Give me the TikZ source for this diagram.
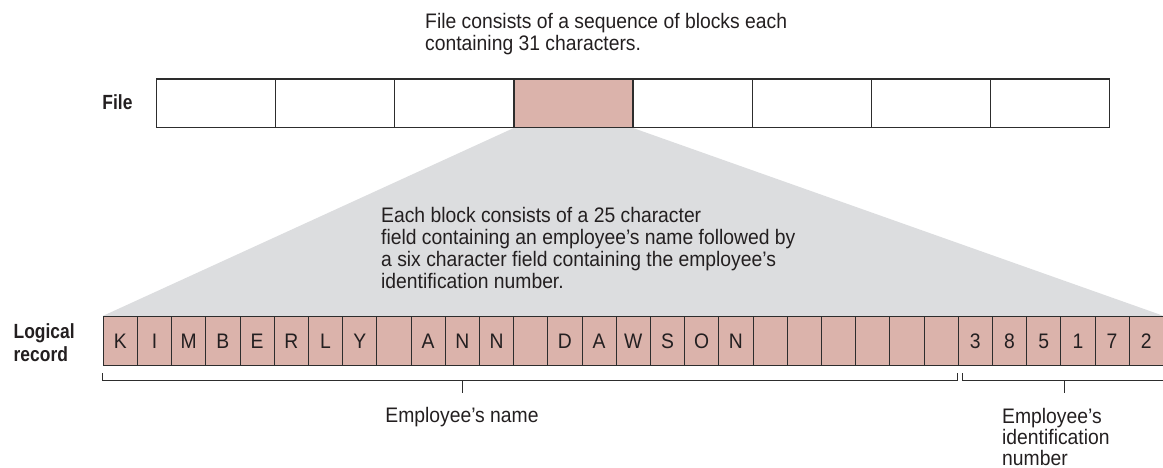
\documentclass[tikz,border=0pt]{standalone}
\usepackage{fontspec}
\setmainfont{Liberation Sans}[FakeStretch=0.92]
\newfontfamily\lblfont{Liberation Sans}[FakeStretch=0.85]
\usetikzlibrary{backgrounds}
\definecolor{pinkc}{RGB}{219,179,171}
\definecolor{grayc}{RGB}{220,221,223}
\definecolor{linec}{RGB}{45,45,45}
\definecolor{textc}{RGB}{35,31,32}
\begin{document}
\begin{tikzpicture}[x=1pt,y=-1pt,
  font=\fontsize{21}{22}\selectfont, text=textc,
  fblock/.style={draw=linec, line width=1.2pt, fill=white, minimum width=119.1pt,
    minimum height=48.5pt, inner sep=0pt, anchor=north west},
  rcell/.style={draw=linec, line width=1pt, fill=pinkc, minimum width=34.2pt,
    minimum height=49pt, inner sep=0pt, anchor=north west,
    text height=15pt, text depth=0pt},
  brk/.style={draw=linec, line width=1pt},
  lbl/.style={font=\lblfont\bfseries\fontsize{20.5}{23}\selectfont, inner sep=0pt},
  note/.style={align=left, inner sep=0pt, anchor=north west}]
\useasboundingbox (0,0) rectangle (1163,468);

% file blocks
\foreach \i in {1,2,3,5,6,7,8} {
  \node[fblock] (b\i) at ({156+(\i-1)*119.1},78.5) {};
}
\node[fblock, fill=pinkc] (b4) at ({156+3*119.1},78.5) {};

% logical record cells
\foreach \ch [count=\i] in {K,I,M,B,E,R,L,Y,{},A,N,N,{},D,A,W,S,O,N,{},{},{},{},{},{},3,8,5,1,7,2} {
  \node[rcell] (c\i) at ({102.7+(\i-1)*34.2},316) {\ch};
}

% gray zoom trapezoid
\begin{scope}[on background layer]
  \fill[grayc] (b4.south west) -- (b4.south east) -- (c31.north east) -- (c1.north west) -- cycle;
\end{scope}

% labels
\node[lbl, anchor=base east] (filelbl) at (132.7,109.3) {File};
\node[lbl, anchor=north west, align=left] (reclbl) at (13.5,323.5) {Logical\\record};

% notes
\node[note, font=\fontsize{21}{22}\selectfont] (note1) at (425,13.2)
  {File consists of a sequence of blocks each\\containing 31 characters.};
\node[note, font=\fontsize{21}{22}\selectfont] (note2) at (381,207.2)
  {Each block consists of a 25 character\\field containing an employee’s name followed by\\a six character field containing the employee’s\\identification number.};

% brackets
\coordinate (nL) at (102.7,380);
\coordinate (nR) at (957.5,380);
\coordinate (nM) at (462,380);
\coordinate (iL) at (962,380);
\coordinate (iR) at (1163,380);
\coordinate (iM) at (1064,380);
\draw[brk] ([yshift=7pt]nL) -- (nL) -- (nR) -- ([yshift=7pt]nR);
\draw[brk] ([yshift=7pt]iL) -- (iL) -- (iR);

\node[anchor=base] (namelbl) at (462,422) {Employee’s name};
\node[note, font=\fontsize{21}{21}\selectfont] (idlbl) at (1002,408)
  {Employee’s\\identification\\number};
\draw[brk] (nM) -- ([yshift=-13pt]nM);
\draw[brk] (iM) -- ([yshift=-13pt]iM);
\end{tikzpicture}
\end{document}
